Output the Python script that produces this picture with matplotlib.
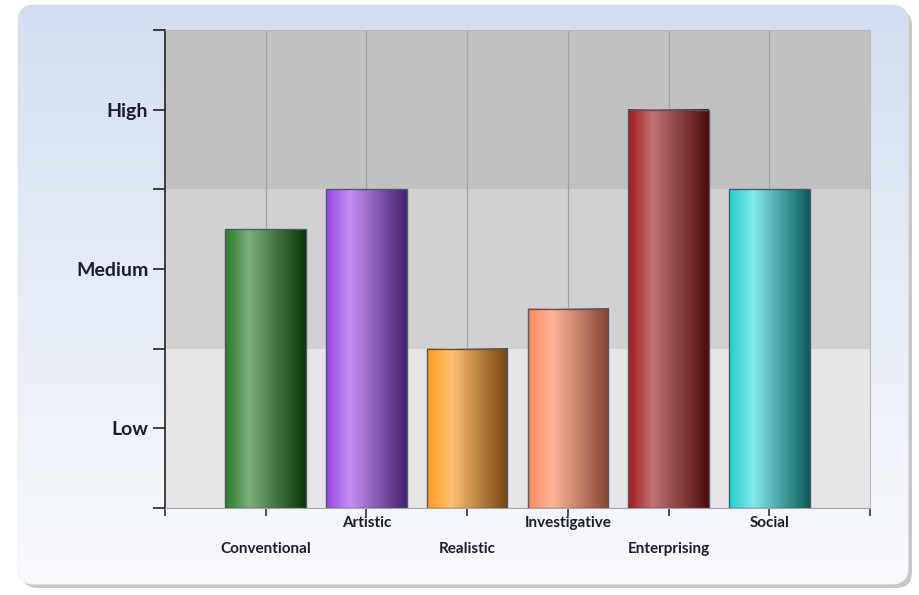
import matplotlib
matplotlib.use('Agg')
import matplotlib.pyplot as plt
import numpy as np
from matplotlib.colors import LinearSegmentedColormap
from matplotlib.patches import FancyBboxPatch
from matplotlib.transforms import blended_transform_factory

# Data
categories = ['Conventional', 'Artistic', 'Realistic', 'Investigative', 'Enterprising', 'Social']
scores = [2.25, 2.5, 1.5, 1.75, 3.0, 2.5]
level_labels = ['Low', 'Medium', 'High']
level_values = [1, 2, 3]

# Bar gradient colours: left edge, highlight, right edge
bar_left = ['#2a7d2a', '#9a45e6', '#ff9820', '#ff8a62', '#a01a1a', '#22d0d0']
bar_high = ['#7cae7c', '#c290f2', '#ffc172', '#ffb496', '#c27272', '#82eaea']
bar_right = ['#073607', '#45206e', '#764410', '#844434', '#4c0c0c', '#0c5a5a']

# Band background colours (bottom to top)
band_colors = ['#e6e4e6', '#d1d1d1', '#c1c1c1']

W, H = 919, 595
fig = plt.figure(figsize=(W / 100, H / 100), dpi=100)
fig.patch.set_facecolor('white')

# Background panel with shadow and gradient
bg = fig.add_axes([0, 0, 1, 1])
bg.set_xlim(0, W)
bg.set_ylim(0, H)
bg.axis('off')
shadow = FancyBboxPatch((22, 7), 890, 578, boxstyle='round,pad=0,rounding_size=16',
                        facecolor='#9a9a9a', edgecolor='none', alpha=0.55)
bg.add_patch(shadow)
panel = FancyBboxPatch((18, 11), 890, 579, boxstyle='round,pad=0,rounding_size=16',
                       facecolor='none', edgecolor='#e8ecf2', lw=0.8)
bg.add_patch(panel)
grad = np.linspace(0, 1, 256).reshape(-1, 1)
bg_cmap = LinearSegmentedColormap.from_list('bg', ['#d2def0', '#e6edf7', '#f9fafd'])
im = bg.imshow(grad, extent=(18, 908, 11, 590), cmap=bg_cmap, aspect='auto',
               origin='upper', zorder=1)
im.set_clip_path(panel)

# Main plot
ax = fig.add_axes([165 / W, 1 - 508 / H, 705 / W, 478 / H])
ax.set_facecolor('none')
x = np.arange(1, len(categories) + 1)

for k, c in enumerate(band_colors):
    ax.axhspan(0.5 + k, 1.5 + k, color=c, zorder=0, lw=0)
for xi in x:
    ax.axvline(xi, color='#a2a2a2', lw=0.9, zorder=1)

row = np.linspace(0, 1, 200).reshape(1, -1)
for i, v in enumerate(scores):
    cm = LinearSegmentedColormap.from_list('b%d' % i,
                                           [(0, bar_left[i]), (0.3, bar_high[i]), (1, bar_right[i])])
    ax.imshow(row, extent=(x[i] - 0.4, x[i] + 0.4, 0.5, v), cmap=cm, aspect='auto', zorder=3)
ax.bar(x, np.array(scores) - 0.5, bottom=0.5, width=0.8, fill=False,
       edgecolor='#4d5a6b', lw=1.0, zorder=4)

ax.set_xlim(0, 7)
ax.set_ylim(0.5, 3.5)

# Axes styling
for s in ['top', 'right']:
    ax.spines[s].set_color('#b8b8b8')
    ax.spines[s].set_linewidth(0.8)
ax.spines['bottom'].set_color('#a8a8a8')
ax.spines['left'].set_color('#222222')
ax.spines['left'].set_linewidth(1.2)

yt = np.arange(0.5, 3.51, 0.5)
ax.set_yticks(yt)
ax.set_yticklabels([level_labels[level_values.index(t)] if t in level_values else '' for t in yt])
ax.tick_params(axis='y', length=9, width=1.2, color='#222222', pad=3,
               labelsize=14, labelcolor='#1c1c2c')
for lb in ax.get_yticklabels():
    lb.set_fontfamily(['Lato', 'DejaVu Sans'])
    lb.set_fontweight('bold')

ax.set_xticks(np.arange(0, 8))
ax.set_xticklabels([])
ax.tick_params(axis='x', length=6, width=1.2, color='#333333')

# staggered category labels
trans = blended_transform_factory(ax.transData, ax.transAxes)
for i, name in enumerate(categories):
    off = -0.032 if i % 2 else -0.086
    ax.text(x[i], off, name, transform=trans, ha='center', va='center',
            fontsize=11, fontweight='bold', color='#1c1c2c',
            family=['Lato', 'DejaVu Sans'])

fig.savefig('out.png', dpi=100)
